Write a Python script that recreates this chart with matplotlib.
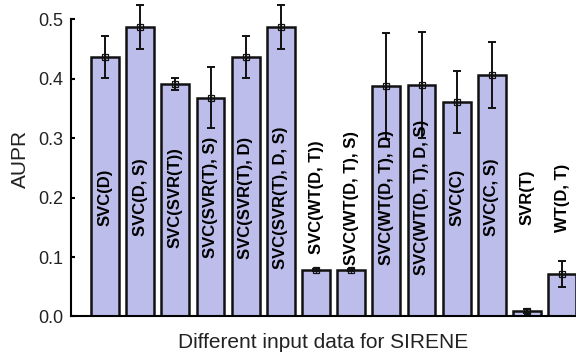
import numpy as np
import matplotlib
matplotlib.use('Agg')
import matplotlib.pyplot as plt

plt.rcParams['font.family'] = ['Liberation Sans', 'DejaVu Sans']

# AUPR for each input combination (mean and std)
labels = ['SVC(D)', 'SVC(D, S)', 'SVC(SVR(T))', 'SVC(SVR(T), S)', 'SVC(SVR(T), D)',
          'SVC(SVR(T), D, S)', 'SVC(WT(D, T))', 'SVC(WT(D, T), S)', 'SVC(WT(D, T), D)',
          'SVC(WT(D, T), D, S)', 'SVC(C)', 'SVC(C, S)', 'SVR(T)', 'WT(D, T)']
aupr = [0.437, 0.487, 0.391, 0.368, 0.437, 0.487, 0.078, 0.078, 0.388, 0.389,
        0.361, 0.406, 0.009, 0.072]
aupr_std = [0.035, 0.037, 0.010, 0.051, 0.035, 0.037, 0.002, 0.002, 0.089, 0.089,
            0.052, 0.055, 0.003, 0.022]

x = np.arange(1, len(labels) + 1)

fig = plt.figure(figsize=(5.76, 3.54), dpi=100)
ax = fig.add_axes([0.1227, 0.106, 0.8773, 0.89])

ax.bar(x, aupr, width=0.79, color='#bdbdeb', edgecolor='#111111', linewidth=1.8, zorder=2)
ax.errorbar(x, aupr, yerr=aupr_std, fmt='none', ecolor='#111111', elinewidth=1.4,
            capsize=2.6, capthick=1.4, zorder=3, clip_on=False)
ax.plot(x, aupr, 's', ms=4.5, mfc='none', mec='#111111', mew=0.9, zorder=4, clip_on=False)
ax.plot(x, aupr, '+', ms=4.5, color='#111111', mew=0.9, zorder=4, clip_on=False)

for xi, lab in zip(x, labels):
    ax.text(xi, 0.2, lab, rotation=90, ha='center', va='center', fontsize=12,
            fontweight='bold', zorder=5)

ax.set_xlim(0.025, 14.39)
ax.set_ylim(0, 0.53)
ax.set_yticks([0.0, 0.1, 0.2, 0.3, 0.4, 0.5])
ax.set_yticklabels(['0.0', '0.1', '0.2', '0.3', '0.4', '0.5'])
ax.set_xticks([])
ax.tick_params(axis='y', direction='in', length=3, width=1.5, labelsize=13, pad=5,
               labelcolor='#222222')

for side in ['top', 'right']:
    ax.spines[side].set_visible(False)
ax.spines['left'].set_bounds(0, 0.5)
ax.spines['left'].set_linewidth(1.5)
ax.spines['bottom'].set_linewidth(1.5)

ax.set_ylabel('AUPR', fontsize=15, labelpad=6, color='#222222')
ax.set_xlabel('Different input data for SIRENE', fontsize=15, labelpad=12, color='#222222')

fig.savefig('out.png', dpi=100)
